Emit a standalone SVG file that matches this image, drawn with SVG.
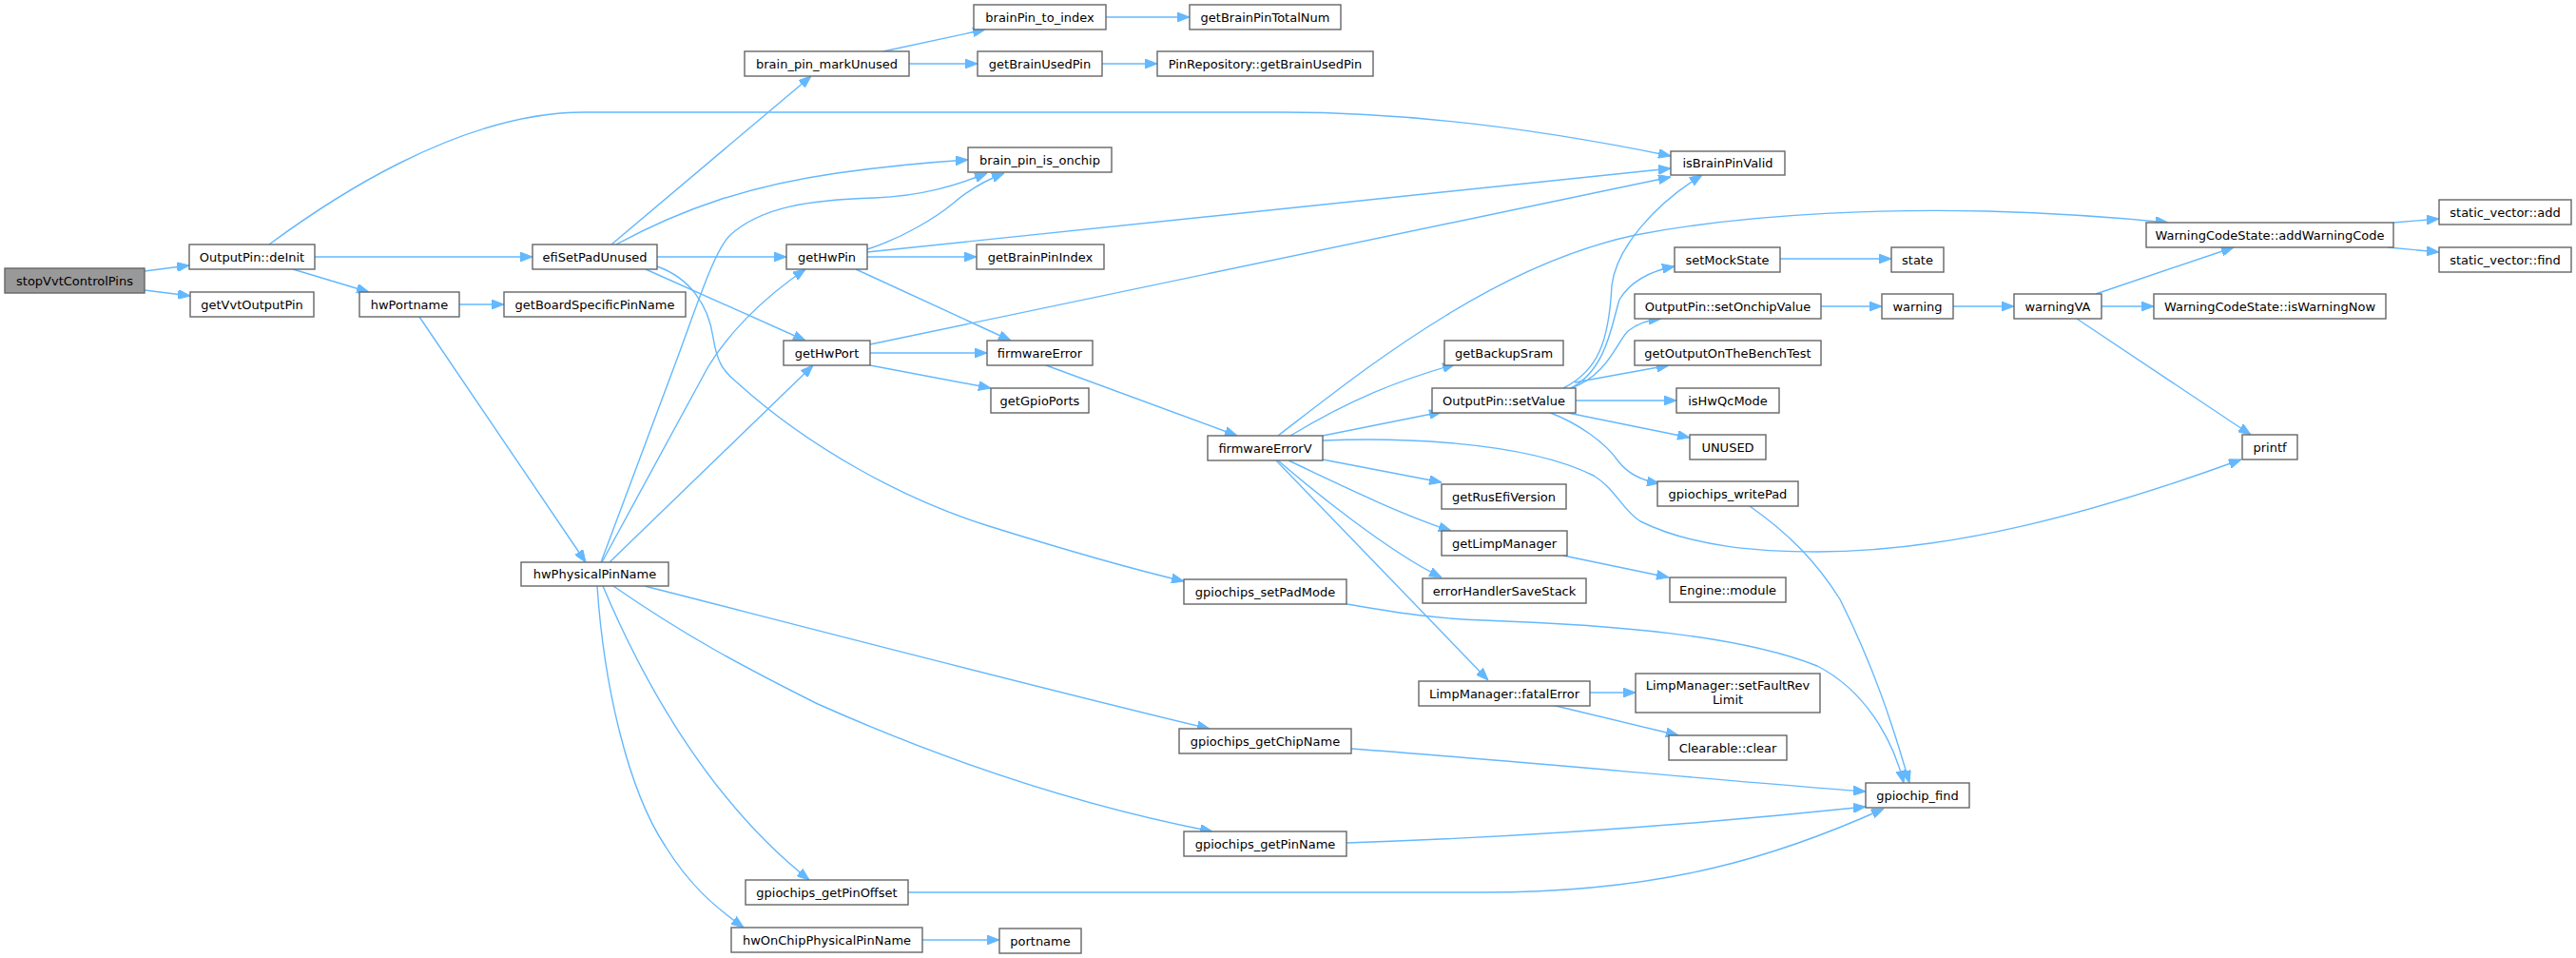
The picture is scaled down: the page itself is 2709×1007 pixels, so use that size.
<svg xmlns="http://www.w3.org/2000/svg" width="2709" height="1007" viewBox="0 0 2709 1007">
<style>
.node rect{fill:#ffffff;stroke:#666666;stroke-width:1.4}
.node.root rect{fill:#999999}
.node text{font-family:"DejaVu Sans","Liberation Sans",sans-serif;font-size:13px;fill:#000000;text-anchor:middle}
.edges path{fill:none;stroke:#63b8ff;stroke-width:1.4;marker-end:url(#arr)}
</style>
<defs>
<marker id="arr" viewBox="0 0 13 10" refX="13" refY="5" markerWidth="13" markerHeight="10" markerUnits="userSpaceOnUse" orient="auto">
<path d="M0,0 L13,5 L0,10 z" fill="#63b8ff" stroke="#63b8ff" stroke-width="1"/>
</marker>
</defs>
<rect width="2709" height="1007" fill="#ffffff"/>
<g class="edges" id="edges">
<path d="M152,285 L199,279"/>
<path d="M152,305 L200,311"/>
<path d="M331,270 L560,270"/>
<path d="M308,283 L388,307"/>
<path d="M283,257 C340,215 480,118 614,118 L1350,118 C1500,118 1650,142 1757,164"/>
<path d="M643,257 L853,80"/>
<path d="M648,257 C720,218 790,195 880,182 C930,175 970,171 1018,168"/>
<path d="M691,270 L827,270"/>
<path d="M679,283 L847,358"/>
<path d="M691,280 C725,292 745,320 750,355 C754,380 760,390 775,402 C850,470 950,525 1040,553 C1120,578 1190,598 1245,611"/>
<path d="M912,262 C950,250 985,228 1002,214 C1018,200 1038,189 1056,182"/>
<path d="M912,265 L1757,177"/>
<path d="M912,270 L1027,270"/>
<path d="M900,283 L1063,358"/>
<path d="M915,371 L1038,371"/>
<path d="M915,384 L1042,408"/>
<path d="M915,362 L1757,186"/>
<path d="M483,320 L530,320"/>
<path d="M441,333 L616,591"/>
<path d="M632,591 L711,380 C735,315 752,262 768,247 C800,218 850,210 920,208 C970,206 1005,195 1038,182"/>
<path d="M633,591 L745,385 C765,352 800,315 847,283"/>
<path d="M641,591 L855,384"/>
<path d="M678,616 C850,660 1100,725 1272,766"/>
<path d="M645,616 C720,668 780,700 860,740 C950,780 1100,840 1275,874"/>
<path d="M634,616 C680,725 750,845 851,925"/>
<path d="M628,616 C635,720 660,830 700,890 C725,930 750,952 782,975"/>
<path d="M955,938 L1560,938 C1750,938 1870,900 1981,850"/>
<path d="M970,988 L1051,988"/>
<path d="M929,54 L1036,31"/>
<path d="M956,67 L1028,67"/>
<path d="M1163,18 L1251,18"/>
<path d="M1159,67 L1217,67"/>
<path d="M1100,384 L1301,458"/>
<path d="M1344,458 C1400,415 1450,375 1520,332 C1580,295 1650,262 1720,247 C1850,222 2000,220 2090,222 C2160,224 2220,228 2280,234"/>
<path d="M1357,458 C1420,420 1470,400 1530,383"/>
<path d="M1391,458 L1516,433"/>
<path d="M1391,463 C1460,460 1600,462 1676,500 C1700,515 1705,535 1725,548 C1780,575 1850,580 1911,580 C2050,580 2200,540 2357,483"/>
<path d="M1391,483 L1516,507"/>
<path d="M1355,484 C1400,505 1470,540 1526,558"/>
<path d="M1344,484 C1380,515 1460,580 1516,607"/>
<path d="M1342,484 L1565,715"/>
<path d="M1644,584 L1755,607"/>
<path d="M1672,728 L1720,728"/>
<path d="M1632,741 L1765,773"/>
<path d="M1644,408 C1680,390 1692,360 1695,300 C1700,260 1740,215 1790,184"/>
<path d="M1652,408 C1690,388 1695,340 1703,315 C1715,295 1735,285 1761,280"/>
<path d="M1652,408 C1690,395 1700,360 1712,348 C1722,340 1735,336 1747,335"/>
<path d="M1656,402 L1755,384"/>
<path d="M1657,421 L1763,421"/>
<path d="M1644,433 L1777,460"/>
<path d="M1628,433 C1660,445 1688,465 1702,485 C1712,498 1725,505 1745,508"/>
<path d="M1872,272 L1989,272"/>
<path d="M1915,322 L1979,322"/>
<path d="M2054,322 L2118,322"/>
<path d="M2204,309 L2349,260"/>
<path d="M2210,322 L2265,322"/>
<path d="M2184,335 L2367,457"/>
<path d="M2517,234 L2565,230"/>
<path d="M2511,260 L2565,265"/>
<path d="M1840,532 C1880,560 1910,590 1935,630 C1970,700 1990,760 2008,823"/>
<path d="M1416,635 C1460,642 1500,650 1560,652 C1700,657 1830,668 1911,700 C1960,725 1990,775 2002,823"/>
<path d="M1421,787 C1600,800 1800,820 1962,832"/>
<path d="M1416,886 C1600,880 1800,865 1962,848"/>
</g>
<g id="n_stopVvtControlPins" class="node root"><rect x="5" y="282" width="147" height="26"/><text x="78.5" y="299.5">stopVvtControlPins</text></g>
<g id="n_OutputPin_deInit" class="node"><rect x="199" y="257" width="132" height="26"/><text x="265" y="274.5">OutputPin::deInit</text></g>
<g id="n_getVvtOutputPin" class="node"><rect x="200" y="307" width="130" height="26"/><text x="265" y="324.5">getVvtOutputPin</text></g>
<g id="n_efiSetPadUnused" class="node"><rect x="560" y="257" width="131" height="26"/><text x="625.5" y="274.5">efiSetPadUnused</text></g>
<g id="n_hwPortname" class="node"><rect x="378" y="307" width="105" height="26"/><text x="430.5" y="324.5">hwPortname</text></g>
<g id="n_getBoardSpecificPinName" class="node"><rect x="530" y="307" width="191" height="26"/><text x="625.5" y="324.5">getBoardSpecificPinName</text></g>
<g id="n_brain_pin_markUnused" class="node"><rect x="783" y="54" width="173" height="26"/><text x="869.5" y="71.5">brain_pin_markUnused</text></g>
<g id="n_getHwPin" class="node"><rect x="827" y="257" width="85" height="26"/><text x="869.5" y="274.5">getHwPin</text></g>
<g id="n_getHwPort" class="node"><rect x="824" y="358" width="91" height="26"/><text x="869.5" y="375.5">getHwPort</text></g>
<g id="n_hwPhysicalPinName" class="node"><rect x="548" y="591" width="155" height="25"/><text x="625.5" y="608">hwPhysicalPinName</text></g>
<g id="n_brainPin_to_index" class="node"><rect x="1024" y="5" width="139" height="26"/><text x="1093.5" y="22.5">brainPin_to_index</text></g>
<g id="n_getBrainPinTotalNum" class="node"><rect x="1251" y="5" width="159" height="26"/><text x="1330.5" y="22.5">getBrainPinTotalNum</text></g>
<g id="n_getBrainUsedPin" class="node"><rect x="1028" y="54" width="131" height="26"/><text x="1093.5" y="71.5">getBrainUsedPin</text></g>
<g id="n_PinRepository_getBrainUsedPin" class="node"><rect x="1217" y="54" width="227" height="26"/><text x="1330.5" y="71.5">PinRepository::getBrainUsedPin</text></g>
<g id="n_brain_pin_is_onchip" class="node"><rect x="1018" y="155" width="151" height="26"/><text x="1093.5" y="172.5">brain_pin_is_onchip</text></g>
<g id="n_getBrainPinIndex" class="node"><rect x="1027" y="257" width="134" height="26"/><text x="1094" y="274.5">getBrainPinIndex</text></g>
<g id="n_firmwareError" class="node"><rect x="1038" y="358" width="111" height="26"/><text x="1093.5" y="375.5">firmwareError</text></g>
<g id="n_getGpioPorts" class="node"><rect x="1042" y="408" width="103" height="26"/><text x="1093.5" y="425.5">getGpioPorts</text></g>
<g id="n_isBrainPinValid" class="node"><rect x="1757" y="159" width="120" height="25"/><text x="1817" y="176">isBrainPinValid</text></g>
<g id="n_firmwareErrorV" class="node"><rect x="1270" y="458" width="121" height="26"/><text x="1330.5" y="475.5">firmwareErrorV</text></g>
<g id="n_gpiochips_setPadMode" class="node"><rect x="1245" y="609" width="171" height="26"/><text x="1330.5" y="626.5">gpiochips_setPadMode</text></g>
<g id="n_gpiochips_getChipName" class="node"><rect x="1240" y="766" width="181" height="26"/><text x="1330.5" y="783.5">gpiochips_getChipName</text></g>
<g id="n_gpiochips_getPinName" class="node"><rect x="1245" y="874" width="171" height="26"/><text x="1330.5" y="891.5">gpiochips_getPinName</text></g>
<g id="n_gpiochips_getPinOffset" class="node"><rect x="784" y="925" width="171" height="26"/><text x="869.5" y="942.5">gpiochips_getPinOffset</text></g>
<g id="n_hwOnChipPhysicalPinName" class="node"><rect x="769" y="975" width="201" height="26"/><text x="869.5" y="992.5">hwOnChipPhysicalPinName</text></g>
<g id="n_portname" class="node"><rect x="1051" y="976" width="86" height="26"/><text x="1094" y="993.5">portname</text></g>
<g id="n_getBackupSram" class="node"><rect x="1519" y="358" width="125" height="26"/><text x="1581.5" y="375.5">getBackupSram</text></g>
<g id="n_OutputPin_setValue" class="node"><rect x="1506" y="408" width="151" height="26"/><text x="1581.5" y="425.5">OutputPin::setValue</text></g>
<g id="n_getRusEfiVersion" class="node"><rect x="1516" y="509" width="131" height="26"/><text x="1581.5" y="526.5">getRusEfiVersion</text></g>
<g id="n_getLimpManager" class="node"><rect x="1516" y="558" width="132" height="26"/><text x="1582" y="575.5">getLimpManager</text></g>
<g id="n_errorHandlerSaveStack" class="node"><rect x="1496" y="608" width="172" height="26"/><text x="1582" y="625.5">errorHandlerSaveStack</text></g>
<g id="n_LimpManager_fatalError" class="node"><rect x="1492" y="716" width="180" height="26"/><text x="1582" y="733.5">LimpManager::fatalError</text></g>
<g id="n_setMockState" class="node"><rect x="1761" y="260" width="111" height="26"/><text x="1816.5" y="277.5">setMockState</text></g>
<g id="n_OutputPin_setOnchipValue" class="node"><rect x="1719" y="309" width="196" height="26"/><text x="1817" y="326.5">OutputPin::setOnchipValue</text></g>
<g id="n_getOutputOnTheBenchTest" class="node"><rect x="1719" y="358" width="196" height="26"/><text x="1817" y="375.5">getOutputOnTheBenchTest</text></g>
<g id="n_isHwQcMode" class="node"><rect x="1763" y="408" width="108" height="26"/><text x="1817" y="425.5">isHwQcMode</text></g>
<g id="n_UNUSED" class="node"><rect x="1777" y="457" width="80" height="26"/><text x="1817" y="474.5">UNUSED</text></g>
<g id="n_gpiochips_writePad" class="node"><rect x="1743" y="506" width="148" height="26"/><text x="1817" y="523.5">gpiochips_writePad</text></g>
<g id="n_Engine_module" class="node"><rect x="1756" y="607" width="122" height="26"/><text x="1817" y="624.5">Engine::module</text></g>
<g id="n_LimpManager_setFaultRevLimit" class="node"><rect x="1720" y="708" width="194" height="41"/><text x="1817" y="724.5">LimpManager::setFaultRev</text><text x="1817" y="739.5">Limit</text></g>
<g id="n_Clearable_clear" class="node"><rect x="1755" y="773" width="124" height="26"/><text x="1817" y="790.5">Clearable::clear</text></g>
<g id="n_gpiochip_find" class="node"><rect x="1962" y="823" width="109" height="26"/><text x="2016.5" y="840.5">gpiochip_find</text></g>
<g id="n_state" class="node"><rect x="1989" y="260" width="55" height="26"/><text x="2016.5" y="277.5">state</text></g>
<g id="n_warning" class="node"><rect x="1979" y="309" width="75" height="26"/><text x="2016.5" y="326.5">warning</text></g>
<g id="n_WarningCodeState_addWarningCode" class="node"><rect x="2257" y="234" width="260" height="26"/><text x="2387" y="251.5">WarningCodeState::addWarningCode</text></g>
<g id="n_warningVA" class="node"><rect x="2118" y="309" width="92" height="26"/><text x="2164" y="326.5">warningVA</text></g>
<g id="n_WarningCodeState_isWarningNow" class="node"><rect x="2265" y="309" width="244" height="26"/><text x="2387" y="326.5">WarningCodeState::isWarningNow</text></g>
<g id="n_printf" class="node"><rect x="2358" y="457" width="58" height="26"/><text x="2387" y="474.5">printf</text></g>
<g id="n_static_vector_add" class="node"><rect x="2565" y="210" width="139" height="26"/><text x="2634.5" y="227.5">static_vector::add</text></g>
<g id="n_static_vector_find" class="node"><rect x="2565" y="260" width="139" height="26"/><text x="2634.5" y="277.5">static_vector::find</text></g>
</svg>
